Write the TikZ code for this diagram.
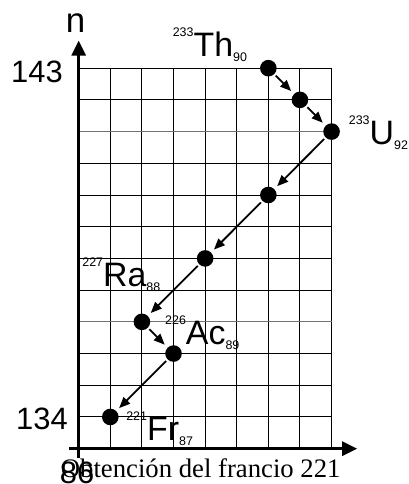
\documentclass[tikz,border=0pt]{standalone}
\usepackage{fontspec}
\setmainfont{Liberation Sans}
\newfontfamily\captionfont{Liberation Serif}
\usetikzlibrary{arrows.meta}
\newcommand{\nuclide}[3]{\raisebox{20bp}{\fontsize{12.5}{12.5}\selectfont #1}#2\raisebox{-5bp}{\fontsize{12.5}{12.5}\selectfont #3}}

\begin{document}
\begin{tikzpicture}[x=31.6bp, y=31.7bp,
    dot/.style={circle, fill=black, inner sep=0pt, minimum size=16.6bp},
    arr/.style={-{Triangle[length=11bp,width=9bp]}, line width=1.8bp, shorten <=2bp, shorten >=4bp},
    axisline/.style={line width=3bp, -{Triangle[length=15bp,width=14bp]}},
    big/.style={inner sep=0pt, font=\fontsize{31}{31}\selectfont},
    nuc/.style={inner sep=0pt, anchor=base west, font=\fontsize{34}{34}\selectfont}
]
\useasboundingbox (-2.49,-1.114) rectangle (10.42,14.15);

% grid
\foreach \i in {1,...,8}
  \draw[line width=1bp] (\i,0) -- (\i,12);
\foreach \j in {1,2,3,5,6,7,8,9,11,12}
  \draw[line width=1bp] (0,\j) -- (8,\j);
\foreach \j in {4,10}
  \draw[line width=1bp, black!55] (0,\j) -- (8,\j);

% axes
\coordinate (xs) at (-0.31,0);
\coordinate (xe) at (8.81,0);
\coordinate (ys) at (0,-0.3);
\coordinate (ye) at (0,12.87);
\draw[axisline] (xs) -- (xe);
\draw[axisline] (ys) -- (ye);
\node[big, anchor=base, font=\fontsize{35}{35}\selectfont] (n) at (-0.1,13.11) {n};
\node[big, anchor=base east] (top) at (-0.5,11.54) {143};
\node[big, anchor=base east] (bot) at (-0.34,0.62) {134};
\node[big, anchor=base] (z) at (-0.05,-1.11) {86};

% nuclides
\node[dot] (th) at (6,12) {};
\node[dot] (pa) at (7,11) {};
\node[dot] (u) at (8,10) {};
\node[dot] (s1) at (6,8) {};
\node[dot] (s2) at (4,6) {};
\node[dot] (ra) at (2,4) {};
\node[dot] (ac) at (3,3) {};
\node[dot] (fr) at (1,1) {};

\node[nuc] (thl) at (2.97,12.36) {\nuclide{233}{Th}{90}};
\node[nuc] (ul) at (8.54,9.58) {\nuclide{233}{U}{92}};
\node[nuc] (ral) at (0.11,5.1) {\nuclide{227}{Ra}{88}};
\node[nuc] (acl) at (2.73,3.27) {\nuclide{226}{Ac}{89}};
\node[nuc] (frl) at (1.5,0.27) {\nuclide{221}{Fr}{87}};

\draw[arr] (th) -- (pa);
\draw[arr] (pa) -- (u);
\draw[arr] (u) -- (s1);
\draw[arr] (s1) -- (s2);
\draw[arr] (s2) -- (ra);
\draw[arr] (ra) -- (ac);
\draw[arr] (ac) -- (fr);

\node[inner sep=0pt, anchor=base, font=\captionfont\fontsize{26.8}{26.8}\selectfont] (cap) at (3.86,-0.9) {Obtención del francio 221};
\end{tikzpicture}
\end{document}
